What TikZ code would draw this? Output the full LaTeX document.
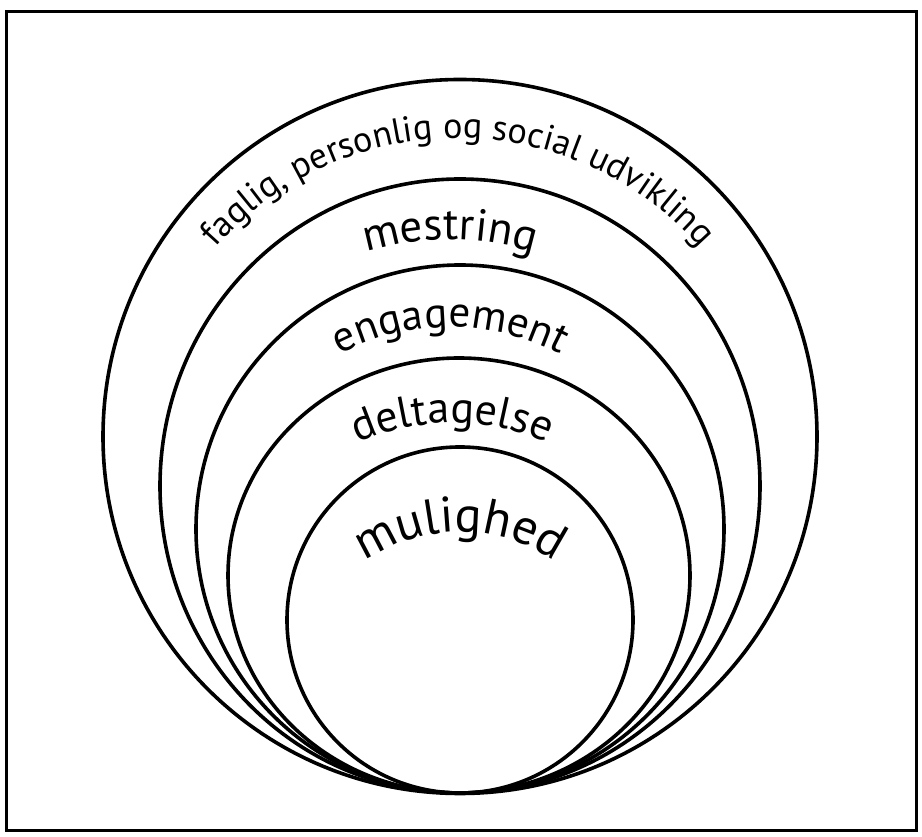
\documentclass[tikz,border=0pt]{standalone}
\usepackage{fontspec}
\setmainfont{PT Sans}
\usetikzlibrary{decorations.text}
\begin{document}
\begin{tikzpicture}[x=1pt,y=1pt,
  ring/.style={line width=3.6pt},
  frame/.style={line width=3pt},
  arctext/.style={decorate, decoration={text along path, text align=center, text={#1}}}]
\useasboundingbox (0,0) rectangle (922,837);
\draw[frame] (6,6) rectangle (916,825);
% circles, all touching at the bottom
\coordinate (c1) at (460,400.5);
\coordinate (c2) at (460,351);
\coordinate (c3) at (460,308);
\coordinate (c4) at (459,261.5);
\coordinate (c5) at (460,217);
\draw[ring] (c1) circle[radius=357];
\draw[ring] (c2) ellipse[x radius=300, y radius=307];
\draw[ring] (c3) circle[radius=264];
\draw[ring] (c4) ellipse[x radius=231, y radius=217.5];
\draw[ring] (c5) circle[radius=173];
% texts along arcs
\coordinate (t1) at (458,377);
\coordinate (t2) at (450,308);
\coordinate (t3) at (450,275);
\coordinate (t4) at (452,180);
\coordinate (t5) at (460,138);
\path[arctext={|\fontsize{36}{40}\selectfont|faglig, personlig og social udvikling}]
  (t1) ++(170:322) arc[start angle=170, end angle=10, radius=322];
\path[arctext={|\fontsize{45}{48}\selectfont|mestring}]
  (t2) ++(150:289) arc[start angle=150, end angle=30, radius=289];
\path[arctext={|\fontsize{43}{46}\selectfont|engagement}]
  (t3) ++(150:235) arc[start angle=150, end angle=30, radius=235];
\path[arctext={|\fontsize{44}{48}\selectfont|deltagelse}]
  (t4) ++(150:234) arc[start angle=150, end angle=30, radius=234];
\path[arctext={|\fontsize{50}{54}\selectfont|mulighed}]
  (t5) ++(160:167) arc[start angle=160, end angle=20, radius=167];
\end{tikzpicture}
\end{document}
